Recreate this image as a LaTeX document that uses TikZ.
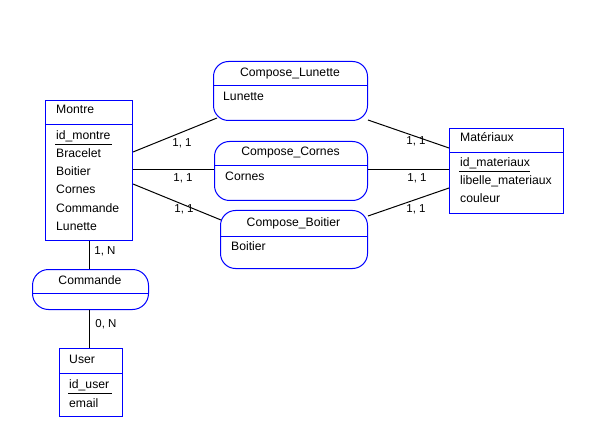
\documentclass[tikz,border=0pt]{standalone}
\usepackage{fontspec}
\setmainfont{Liberation Sans}
\usetikzlibrary{calc}
\begin{document}
\begin{tikzpicture}[x=1pt,y=-1pt,
  box/.style={draw=blue, line width=1pt, inner sep=0pt, anchor=north west},
  assoc/.style={box, rounded corners=15pt},
  lab/.style={inner sep=0pt, font=\fontsize{12.2}{13}\selectfont},
  txt/.style={lab, anchor=base west},
  ctxt/.style={lab, anchor=base},
  sepline/.style={draw=blue, line width=1pt},
  uline/.style={draw=black, line width=1pt},
  link/.style={draw=black, line width=1pt},
  card/.style={inner sep=0pt, font=\fontsize{11.5}{12}\selectfont, anchor=base}]
\useasboundingbox (0,0) rectangle (596,446);
\fill[white] (0,0) rectangle (596,446);

% Montre
\node[box, minimum width=87pt, minimum height=140pt] (montre) at (45,100) {};
\draw[sepline] ($(montre.north west)+(0,25)$) -- ($(montre.north east)+(0,25)$);
\node[txt] (montreT) at (56,114) {Montre};
\node[txt] (mid) at (56,140) {id\_montre};
\draw[uline] ($(montre.north west)+(10,45)$) -- ($(montre.north west)+(67,45)$);
\node[txt] (mbr) at (56,158) {Bracelet};
\node[txt] (mbo) at (56,176) {Boitier};
\node[txt] (mco) at (56,194) {Cornes};
\node[txt] (mcm) at (56,212) {Commande};
\node[txt] (mlu) at (56,230) {Lunette};

% Compose_Lunette
\node[assoc, minimum width=154pt, minimum height=59pt] (cl) at (213,61) {};
\draw[sepline] ($(cl.north west)+(0,25)$) -- ($(cl.north east)+(0,25)$);
\node[ctxt] (clT) at (290,77) {Compose\_Lunette};
\node[txt] (clA) at (223,101) {Lunette};

% Compose_Cornes
\node[assoc, minimum width=153pt, minimum height=59pt] (cc) at (214,141) {};
\draw[sepline] ($(cc.north west)+(0,25)$) -- ($(cc.north east)+(0,25)$);
\node[ctxt] (ccT) at (290.5,156) {Compose\_Cornes};
\node[txt] (ccA) at (225,181) {Cornes};

% Compose_Boitier
\node[assoc, minimum width=147pt, minimum height=58pt] (cb) at (220,210) {};
\draw[sepline] ($(cb.north west)+(0,26)$) -- ($(cb.north east)+(0,26)$);
\node[ctxt] (cbT) at (293.5,226) {Compose\_Boitier};
\node[txt] (cbA) at (231,250) {Boitier};

% Materiaux
\node[box, minimum width=114pt, minimum height=85pt] (mat) at (449,128) {};
\draw[sepline] ($(mat.north west)+(0,25)$) -- ($(mat.north east)+(0,25)$);
\node[txt] (matT) at (460,142) {Matériaux};
\node[txt] (matid) at (460,167) {id\_materiaux};
\draw[uline] ($(mat.north west)+(10,44)$) -- ($(mat.north west)+(81,44)$);
\node[txt] (matlib) at (460,185) {libelle\_materiaux};
\node[txt] (matcol) at (460,203) {couleur};

% Commande
\node[assoc, rounded corners=16pt, minimum width=116pt, minimum height=40pt] (cmd) at (32,269) {};
\draw[sepline] ($(cmd.north west)+(0,24)$) -- ($(cmd.north east)+(0,24)$);
\node[ctxt] (cmdT) at (90,284) {Commande};

% User
\node[box, minimum width=63pt, minimum height=68pt] (user) at (59,348) {};
\draw[sepline] ($(user.north west)+(0,25)$) -- ($(user.north east)+(0,25)$);
\node[txt] (userT) at (69,363) {User};
\node[txt] (uid) at (69,388) {id\_user};
\draw[uline] ($(user.north west)+(9,45)$) -- ($(user.north west)+(53,45)$);
\node[txt] (uem) at (69,407) {email};

% Connectors
\draw[link] ($(montre.north east)+(0,52)$) -- ($(cl.south west)+(4,-3)$);
\draw[link] ($(montre.north east)+(0,70)$) -- ($(cc.north west)+(0,29)$);
\draw[link] ($(montre.north east)+(0,84)$) -- ($(cb.north west)+(1,10)$);
\draw[link] ($(cl.south east)+(0,-1)$) -- ($(mat.north west)+(0,20)$);
\draw[link] ($(cc.north east)+(0,29)$) -- ($(mat.north west)+(0,42)$);
\draw[link] ($(cb.north east)+(0,6)$) -- ($(mat.north west)+(0,60)$);
\draw[link] ($(montre.south west)+(44,0)$) -- ($(cmd.north west)+(57,0)$);
\draw[link] ($(cmd.south west)+(57,0)$) -- ($(user.north west)+(30,0)$);

% Cardinalities
\node[card] (c1) at (182,147) {1, 1};
\node[card] (c2) at (183,182) {1, 1};
\node[card] (c3) at (184,212) {1, 1};
\node[card] (c4) at (416,145) {1, 1};
\node[card] (c5) at (417,182) {1, 1};
\node[card] (c6) at (416,213) {1, 1};
\node[card] (c7) at (105,254) {1, N};
\node[card] (c8) at (106,327) {0, N};
\end{tikzpicture}
\end{document}
